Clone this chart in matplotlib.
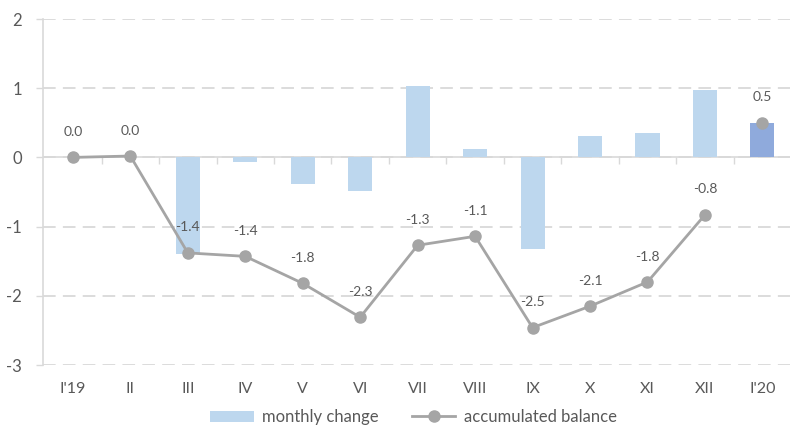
import matplotlib
matplotlib.use("Agg")
import matplotlib.pyplot as plt
import numpy as np

months = ["I'19", "II", "III", "IV", "V", "VI", "VII", "VIII", "IX", "X", "XI", "XII", "I'20"]
monthly_change = [0.0, 0.0, -1.40, -0.07, -0.38, -0.49, 1.03, 0.12, -1.33, 0.31, 0.35, 0.97, 0.49]
accumulated = [0.0, 0.02, -1.38, -1.43, -1.82, -2.31, -1.27, -1.14, -2.46, -2.15, -1.80, -0.83, 0.50]
acc_labels = ["0.0", "0.0", "-1.4", "-1.4", "-1.8", "-2.3", "-1.3", "-1.1", "-2.5", "-2.1", "-1.8", "-0.8", "0.5"]

plt.rcParams["font.family"] = ["Lato", "DejaVu Sans"]
plt.rcParams["axes.unicode_minus"] = False
text_c = "#595959"
grid_c = "#D9D9D9"
line_c = "#A5A5A5"

fig = plt.figure(figsize=(7.95, 4.38), dpi=100)
ax = fig.add_axes([43 / 795, 1 - 365 / 438, 747 / 795, 346 / 438])

x = np.arange(len(months))
bar_colors = ["#BDD7EE"] * (len(months) - 1) + ["#8FAADC"]
bars = ax.bar(x, monthly_change, width=0.42, color=bar_colors, zorder=2, label="monthly change")
# the 2019 months form one connected line; the new year point stands alone
line, = ax.plot(x[:-1], accumulated[:-1], color=line_c, lw=2, marker="o", ms=8, zorder=3,
                label="accumulated balance")
ax.plot(x[-1:], accumulated[-1:], color=line_c, lw=0, marker="o", ms=8, zorder=3)

for xi, yi, lab in zip(x, accumulated, acc_labels):
    ax.annotate(lab, (xi, yi), xytext=(0, 14), textcoords="offset points",
                ha="center", va="bottom", fontsize=10, color=text_c, zorder=4)

ax.set_ylim(-3, 2)
ax.set_xlim(-0.52, len(months) - 0.52)
ax.set_yticks(range(-3, 3))
ax.yaxis.grid(True, color=grid_c, ls=(0, (7, 4)), lw=1.3, zorder=0)
ax.set_xticks(x)
ax.set_xticklabels(months)
ax.tick_params(axis="x", length=0, pad=12, labelsize=11.5, colors=text_c)
ax.tick_params(axis="y", length=5, width=1, color=grid_c, labelsize=12,
               labelcolor=text_c, pad=10)
for side in ["top", "right", "bottom"]:
    ax.spines[side].set_visible(False)
ax.spines["left"].set_color(grid_c)
ax.spines["left"].set_linewidth(1.2)

# zero axis with category boundary ticks
ax.axhline(0, color=grid_c, lw=1.2, zorder=1)
bounds = x[:-1] + 0.5
ax.plot(bounds, np.zeros_like(bounds), ls="none", marker=3, ms=5, mew=1,
        color=grid_c, zorder=1)

fig.legend([bars, line], ["monthly change", "accumulated balance"],
           loc="lower center", bbox_to_anchor=(0.52, -0.005), ncol=2, frameon=False,
           fontsize=12, labelcolor=text_c, handlelength=2.6, handletextpad=0.5,
           columnspacing=2.0)

fig.savefig("out.png", dpi=100)
